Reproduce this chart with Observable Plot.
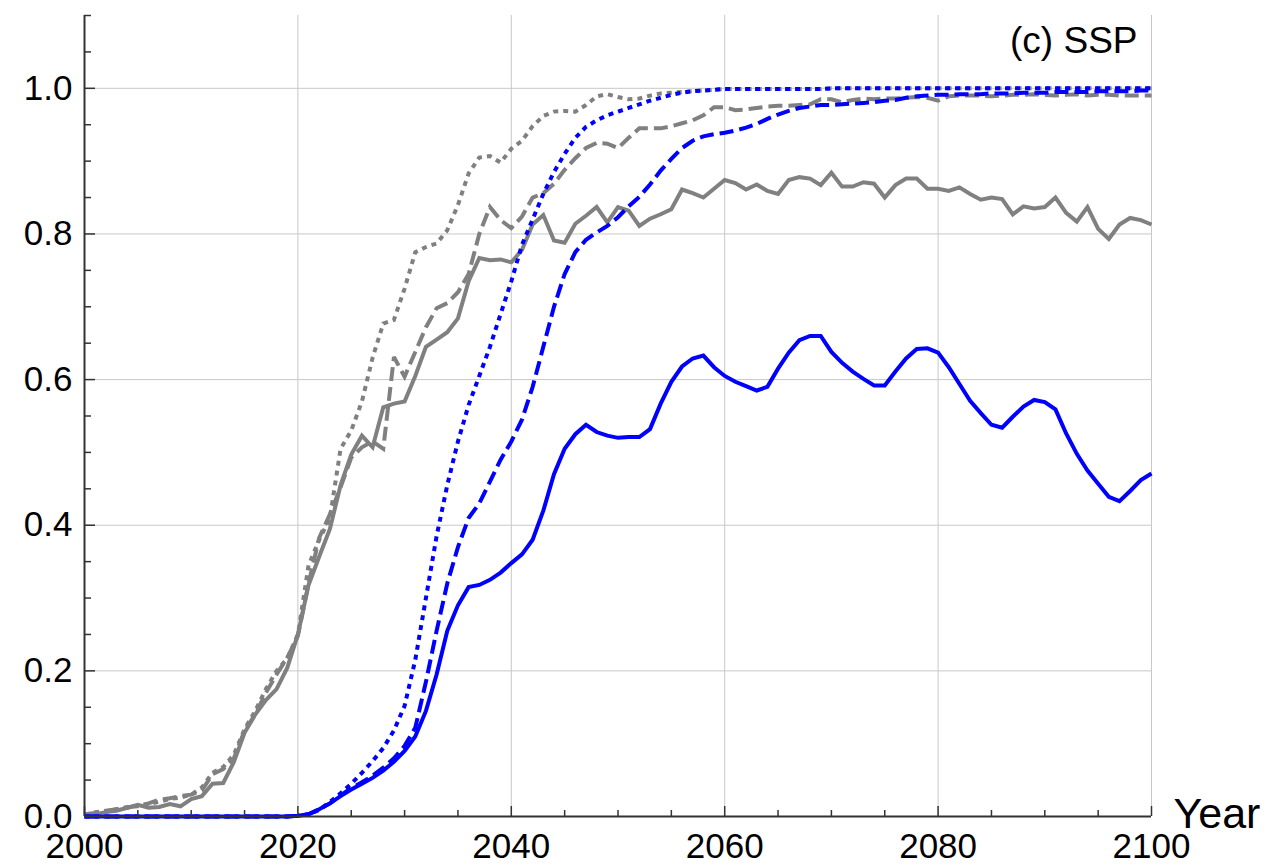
<!DOCTYPE html>
<html>
<head>
<meta charset="utf-8">
<script src="https://cdn.jsdelivr.net/npm/d3@7"></script>
<script src="https://cdn.jsdelivr.net/npm/@observablehq/plot@0.6"></script>
<style>
  html, body { margin: 0; padding: 0; background: #fff; overflow: hidden; }
  #chart svg { display: block; }
</style>
</head>
<body>
<div id="chart"></div>
<script>
const years = d3.range(2000, 2101);

const blueSolid = [
  0,0,0,0,0,0,0,0,0,0,
  0,0,0,0,0,0,0,0,0,0,
  0.001,0.003,0.01,0.018,0.028,0.037,0.045,0.053,0.063,0.075,
  0.09,0.11,0.145,0.195,0.255,0.29,0.315,0.318,0.325,0.335,
  0.348,0.36,0.38,0.42,0.47,0.505,0.525,0.538,0.528,0.523,
  0.52,0.521,0.521,0.532,0.567,0.597,0.618,0.629,0.633,0.617,
  0.605,0.597,0.591,0.585,0.59,0.615,0.637,0.654,0.66,0.66,
  0.638,0.623,0.611,0.601,0.592,0.592,0.611,0.629,0.642,0.643,
  0.637,0.617,0.594,0.571,0.554,0.538,0.534,0.549,0.563,0.572,
  0.569,0.559,0.526,0.498,0.475,0.457,0.439,0.433,0.447,0.462,
  0.471
];
const blueDashed = [
  0,0,0,0,0,0,0,0,0,0,
  0,0,0,0,0,0,0,0,0,0,
  0.001,0.003,0.01,0.018,0.029,0.039,0.047,0.056,0.067,0.08,
  0.097,0.122,0.185,0.255,0.32,0.37,0.41,0.43,0.46,0.49,
  0.515,0.545,0.59,0.645,0.7,0.745,0.775,0.792,0.802,0.811,
  0.823,0.838,0.851,0.868,0.887,0.903,0.918,0.928,0.934,0.937,
  0.939,0.942,0.946,0.951,0.958,0.964,0.969,0.973,0.975,0.977,
  0.977,0.978,0.979,0.98,0.981,0.983,0.984,0.987,0.989,0.99,
  0.991,0.991,0.992,0.992,0.992,0.993,0.993,0.993,0.994,0.994,
  0.994,0.995,0.995,0.995,0.995,0.996,0.996,0.996,0.996,0.997,
  0.997
];
const blueDotted = [
  0,0,0,0,0,0,0,0,0,0,
  0,0,0,0,0,0,0,0,0,0,
  0.001,0.003,0.009,0.02,0.032,0.045,0.06,0.076,0.094,0.118,
  0.152,0.215,0.3,0.385,0.455,0.515,0.565,0.605,0.645,0.69,
  0.735,0.785,0.82,0.855,0.885,0.91,0.932,0.947,0.956,0.963,
  0.968,0.973,0.978,0.983,0.987,0.991,0.994,0.996,0.997,0.998,
  0.999,0.999,0.999,0.999,0.999,0.999,0.999,0.999,0.999,0.999,
  1,1,1,1,1,1,1,1,1,1,
  1,1,1,1,1,1,1,1,1,1,
  1,1,1,1,1,1,1,1,1,1,
  1
];
const graySolid = [
  0.002,0.003,0.006,0.008,0.012,0.016,0.012,0.013,0.017,0.014,
  0.024,0.028,0.045,0.046,0.075,0.115,0.14,0.16,0.175,0.204,
  0.25,0.318,0.357,0.395,0.455,0.497,0.523,0.507,0.562,0.567,
  0.57,0.605,0.645,0.655,0.665,0.684,0.735,0.767,0.764,0.765,
  0.761,0.778,0.813,0.826,0.791,0.788,0.814,0.825,0.837,0.816,
  0.837,0.832,0.811,0.821,0.827,0.834,0.861,0.856,0.85,0.862,
  0.874,0.87,0.861,0.868,0.859,0.855,0.874,0.878,0.876,0.867,
  0.884,0.865,0.865,0.871,0.869,0.85,0.867,0.876,0.876,0.862,
  0.862,0.859,0.864,0.855,0.847,0.85,0.848,0.827,0.838,0.835,
  0.837,0.85,0.829,0.817,0.837,0.807,0.793,0.813,0.822,0.819,
  0.813
];
const grayDashed = [
  0.003,0.005,0.008,0.01,0.012,0.015,0.018,0.023,0.025,0.028,
  0.03,0.036,0.058,0.065,0.08,0.118,0.14,0.17,0.195,0.218,
  0.248,0.32,0.383,0.415,0.452,0.493,0.507,0.515,0.505,0.631,
  0.604,0.638,0.672,0.698,0.705,0.72,0.745,0.8,0.837,0.819,
  0.808,0.824,0.85,0.856,0.869,0.888,0.904,0.918,0.925,0.924,
  0.918,0.932,0.945,0.945,0.945,0.948,0.952,0.956,0.963,0.974,
  0.974,0.97,0.971,0.973,0.975,0.976,0.976,0.977,0.978,0.985,
  0.985,0.981,0.984,0.986,0.985,0.986,0.986,0.987,0.988,0.987,
  0.983,0.989,0.99,0.99,0.99,0.989,0.99,0.991,0.991,0.992,
  0.991,0.99,0.991,0.992,0.99,0.991,0.991,0.99,0.99,0.99,
  0.99
];
const grayDotted = [
  0.002,0.006,0.007,0.01,0.013,0.014,0.017,0.02,0.024,0.026,
  0.03,0.04,0.06,0.068,0.085,0.12,0.145,0.175,0.2,0.217,
  0.25,0.345,0.38,0.41,0.505,0.53,0.57,0.63,0.677,0.682,
  0.725,0.775,0.782,0.787,0.805,0.84,0.883,0.905,0.907,0.898,
  0.917,0.928,0.948,0.962,0.968,0.969,0.968,0.977,0.989,0.992,
  0.988,0.985,0.986,0.99,0.993,0.994,0.995,0.996,0.997,0.998,
  0.999,0.999,0.999,0.999,0.999,0.999,0.999,0.999,0.999,0.999,
  1,1,1,1,1,1,1,1,1,1,
  1,1,1,1,1,1,1,1,1,1,
  1,1,1,1,1,1,1,1,1,1,
  1
];

const xMajorTicks = [2000, 2020, 2040, 2060, 2080, 2100];
const xMinorTicks = [2005,2010,2015,2025,2030,2035,2045,2050,2055,2065,2070,2075,2085,2090,2095];
const yMajorTicks = [0, 0.2, 0.4, 0.6, 0.8, 1.0];
const yMinorTicks = [0.05,0.1,0.15,0.25,0.3,0.35,0.45,0.5,0.55,0.65,0.7,0.75,0.85,0.9,0.95,1.05,1.1];
const xGrid = [2020, 2040, 2060, 2080, 2100];
const yGrid = [0.2, 0.4, 0.6, 0.8, 1.0];
const panelLabel = "(c) SSP";
const xAxisLabel = "Year";

const series = [
  {values: graySolid,  color: "#808080", dash: null},
  {values: grayDashed, color: "#808080", dash: "14,6"},
  {values: grayDotted, color: "#808080", dash: "5,5"},
  {values: blueSolid,  color: "#0000ff", dash: null},
  {values: blueDashed, color: "#0000ff", dash: "14,6"},
  {values: blueDotted, color: "#0000ff", dash: "5,5"}
];

const W = 1271, H = 866;
const mL = 84, mR = 120, mT = 15, mB = 50;
const plotW = W - mL - mR, plotH = H - mT - mB;
const xDomain = [2000, 2100], yDomain = [0, 1.1];
const font = "Liberation Sans, Arial, Helvetica, sans-serif";
const axisColor = "#333333";

// tick lengths in pixels, converted to data units through the layout
const yPerPx = (yDomain[1] - yDomain[0]) / plotH;
const xPerPx = (xDomain[1] - xDomain[0]) / plotW;
const tick = (px, perPx) => px * perPx;

const lineMarks = series.map(s => Plot.line(years.map((yr, i) => ({year: yr, v: s.values[i]})), {
  x: "year", y: "v", stroke: s.color, strokeWidth: 4,
  strokeDasharray: s.dash || undefined,
  strokeLinecap: "butt", strokeLinejoin: "miter", strokeMiterlimit: 3
}));

const chart = Plot.plot({
  width: W, height: H,
  marginLeft: mL, marginRight: mR, marginTop: mT, marginBottom: mB,
  style: {fontFamily: font, background: "#fff", overflow: "visible"},
  x: {domain: xDomain, axis: null},
  y: {domain: yDomain, axis: null},
  marks: [
    Plot.ruleX(xGrid, {x: d => d, y1: yDomain[0], y2: yDomain[1], stroke: "#c8c8c8", strokeWidth: 1}),
    Plot.ruleY(yGrid, {y: d => d, x1: xDomain[0], x2: xDomain[1], stroke: "#c8c8c8", strokeWidth: 1}),
    ...lineMarks,
    // axis lines
    Plot.ruleX([xDomain[0]], {x: d => d, y1: yDomain[0], y2: yDomain[1], stroke: axisColor, strokeWidth: 2}),
    Plot.ruleY([yDomain[0]], {y: d => d, x1: xDomain[0], x2: xDomain[1], stroke: axisColor, strokeWidth: 2}),
    // ticks (inward)
    Plot.ruleX(xMajorTicks, {x: d => d, y1: yDomain[0], y2: tick(10, yPerPx), stroke: axisColor, strokeWidth: 1.5}),
    Plot.ruleX(xMinorTicks, {x: d => d, y1: yDomain[0], y2: tick(6, yPerPx), stroke: axisColor, strokeWidth: 1.5}),
    Plot.ruleY(yMajorTicks, {y: d => d, x1: xDomain[0], x2: xDomain[0] + tick(11, xPerPx), stroke: axisColor, strokeWidth: 1.5}),
    Plot.ruleY(yMinorTicks, {y: d => d, x1: xDomain[0], x2: xDomain[0] + tick(7, xPerPx), stroke: axisColor, strokeWidth: 1.5}),
    // tick labels
    Plot.text(xMajorTicks, {x: d => d, y: yDomain[0], dy: 30, text: d => String(d), fontSize: 35, fill: "#000", textAnchor: "middle", lineAnchor: "middle"}),
    Plot.text(yMajorTicks, {x: xDomain[0], y: d => d, dx: -12, text: d => d.toFixed(1), fontSize: 35, fill: "#000", textAnchor: "end", lineAnchor: "middle"}),
    Plot.text([xAxisLabel], {x: xDomain[1], y: yDomain[0], dx: 22, dy: -2, text: d => d, fontSize: 43, fill: "#000", textAnchor: "start", lineAnchor: "middle"}),
    Plot.text([panelLabel], {frameAnchor: "top-right", dx: -14, dy: 26, text: d => d, fontSize: 37, fill: "#000", textAnchor: "end", lineAnchor: "middle"})
  ]
});

document.getElementById("chart").appendChild(chart);
</script>
</body>
</html>
